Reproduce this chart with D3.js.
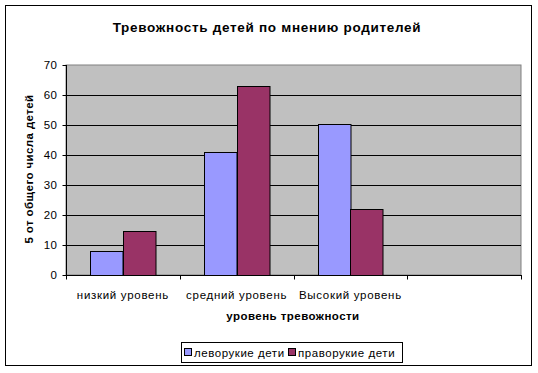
<!DOCTYPE html>
<html><head><meta charset="utf-8">
<script src="https://cdn.jsdelivr.net/npm/d3@7"></script>
<style>body{margin:0;background:#fff}svg{display:block;font-family:"Liberation Sans",Arial,sans-serif}</style>
</head><body><svg id="c" width="538" height="373"></svg>
<script>
const categories = ["низкий уровень", "средний уровень", "Высокий уровень", ""];
const seriesNames = ["леворукие дети", "праворукие дети"];
const leftHanded = [8, 41, 50.3];
const rightHanded = [14.6, 63, 22];
const yTicks = [0, 10, 20, 30, 40, 50, 60, 70];
const colors = ["#9999FF", "#993366"];

const svg = d3.select("#c");
const m = {l: 66, r: 521, t: 65, b: 275};

svg.append("rect").attr("x", 5.5).attr("y", 5.5).attr("width", 526).attr("height", 360)
  .attr("fill", "#fff").attr("stroke", "#000").attr("stroke-width", 1);

const x = d3.scaleBand().domain(d3.range(categories.length)).range([m.l, m.r]);
const y = d3.scaleLinear().domain([0, 70]).range([m.b, m.t]);

svg.append("rect").attr("x", m.l).attr("y", m.t).attr("width", m.r - m.l).attr("height", m.b - m.t)
  .attr("fill", "#C0C0C0").attr("stroke", "#808080").attr("stroke-width", 1);

// gridlines
svg.append("g").selectAll("line").data(yTicks.filter(d => d > 0 && d < 70)).join("line")
  .attr("x1", m.l).attr("x2", m.r).attr("y1", d => Math.round(y(d)) + 0.5).attr("y2", d => Math.round(y(d)) + 0.5)
  .attr("stroke", "#000").attr("stroke-width", 1);

// bars
const series = [leftHanded, rightHanded];
const inner = d3.scaleBand().domain([0, 1]).range([0, x.bandwidth() / 1.75]);
const off = (x.bandwidth() - x.bandwidth() / 1.75) / 2;
series.forEach((vals, si) => {
  svg.append("g").selectAll("rect").data(vals).join("rect")
    .attr("x", (d, i) => Math.round(x(i) + off + inner(si)) + 0.5)
    .attr("y", d => Math.round(y(d)) + 0.5)
    .attr("width", inner.bandwidth())
    .attr("height", d => y(0) - Math.round(y(d)))
    .attr("fill", colors[si]).attr("stroke", "#000").attr("stroke-width", 1);
});

// y axis
const ya = svg.append("g").attr("transform", `translate(${m.l + 0.5},0)`)
  .call(d3.axisLeft(y).tickValues(yTicks).tickSize(4).tickPadding(5));
ya.selectAll("text").attr("font-size", 11.5).attr("fill", "#000").attr("font-family", "Liberation Sans, Arial, sans-serif").attr("letter-spacing", 0.5);
ya.select(".domain").remove();
svg.append("line").attr("x1", m.l + 0.5).attr("x2", m.l + 0.5).attr("y1", m.t).attr("y2", m.b).attr("stroke", "#000");

// x axis
const xa = svg.append("g").attr("transform", `translate(0,${m.b + 0.5})`);
xa.append("line").attr("x1", m.l).attr("x2", m.r + 1).attr("stroke", "#000");
const edges = d3.range(categories.length + 1).map(i => m.l + i * x.step());
xa.selectAll("line.t").data(edges).join("line").attr("class", "t")
  .attr("x1", d => Math.round(d) + 0.5).attr("x2", d => Math.round(d) + 0.5).attr("y1", 0).attr("y2", 4).attr("stroke", "#000");
xa.selectAll("text").data(categories).join("text")
  .attr("x", (d, i) => x(i) + x.bandwidth() / 2).attr("y", 23)
  .attr("text-anchor", "middle").attr("font-size", 11.5).attr("letter-spacing", 0.7).text(d => d);

// titles
svg.append("text").attr("x", 267).attr("y", 32).attr("text-anchor", "middle")
  .attr("font-size", 13.5).attr("font-weight", "bold").attr("letter-spacing", 0.7).text("Тревожность детей по мнению родителей");
svg.append("text").attr("x", 293).attr("y", 320).attr("text-anchor", "middle")
  .attr("font-size", 11.5).attr("font-weight", "bold").attr("letter-spacing", 0.45).text("уровень тревожности");
svg.append("text").attr("transform", "translate(33,169) rotate(-90)").attr("text-anchor", "middle")
  .attr("font-size", 11.5).attr("font-weight", "bold").attr("letter-spacing", 0.4).text("5 от общего числа детей");

// legend
const lg = svg.append("g");
lg.append("rect").attr("x", 181.5).attr("y", 342.5).attr("width", 221).attr("height", 20)
  .attr("fill", "#fff").attr("stroke", "#000");
const lx = [184, 288];
seriesNames.forEach((n, i) => {
  lg.append("rect").attr("x", lx[i] + 0.5).attr("y", 348.5).attr("width", 7).attr("height", 7)
    .attr("fill", colors[i]).attr("stroke", "#000");
  lg.append("text").attr("x", lx[i] + 10).attr("y", 357).attr("font-size", 11.5).attr("letter-spacing", 0.55).text(n);
});
</script></body></html>
